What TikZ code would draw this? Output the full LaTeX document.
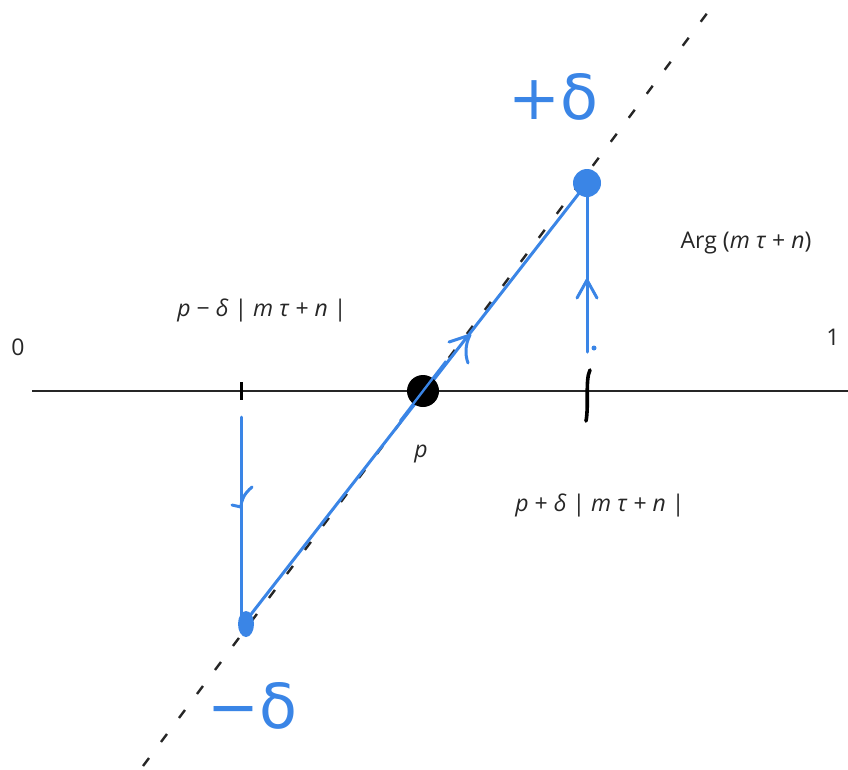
\documentclass[tikz,border=0pt]{standalone}
\usepackage{fontspec}
\usetikzlibrary{shapes.geometric}
\setmainfont{Open Sans}
\definecolor{hblue}{RGB}{58,133,230}
\begin{document}
\begin{tikzpicture}[x=1pt,y=-1pt,
  axis/.style={line width=2.2pt,black!85},
  dline/.style={line width=2.4pt,black!85,dash pattern=on 10pt off 20pt},
  bline/.style={hblue,line width=3pt,line cap=round},
  harrow/.style={hblue,line width=3pt,line cap=round,line join=round},
  lbl/.style={font=\fontsize{23}{26}\selectfont,inner sep=0pt,text=black!85},
  hand/.style={hblue,font=\fontsize{62}{64}\selectfont\fontspec{DejaVu Sans},inner sep=0pt}]
\useasboundingbox (0,0) rectangle (848,769);
% axis and dashed line
\coordinate (axL) at (32,391);
\coordinate (axR) at (848,391);
\draw[axis] (axL) -- (axR);
\coordinate (dB) at (143,766);
\coordinate (dT) at (708,12);
\draw[dline] (dB) -- (dT);
% ticks
\coordinate (t1a) at (241,382); \coordinate (t1b) at (241,400);
\draw[line width=3pt,black] (t1a) -- (t1b);
\coordinate (t2a) at (590,370); \coordinate (t2b) at (586,421);
\draw[line width=3.6pt,black,line cap=round] (t2a) .. controls (585,380) and (589,405) .. (t2b);
% blue paths
\coordinate (lv1) at (241,417);
\coordinate (lb) at (245,622);
\coordinate (tb) at (587,183);
\coordinate (rv1) at (587,352);
\draw[bline] (lv1) -- (241,618);
\draw[bline] (lb) -- (tb);
\draw[bline] (rv1) -- (tb);
% blobs
\node[fill=hblue,ellipse,minimum width=16pt,minimum height=26pt,inner sep=0pt] (blobL) at (246,624) {};
\node[fill=hblue,circle,minimum size=28pt,inner sep=0pt] (blobT) at (587,183) {};
\node[fill=hblue,circle,minimum size=5pt,inner sep=0pt] (dotR) at (594,348) {};
% point p
\node[fill=black,circle,minimum size=32pt,inner sep=0pt] (p) at (423,391) {};
\draw[hblue,line width=2.4pt] (400,421) -- (446,361);
% hand arrows
\draw[harrow] (252,487) .. controls (244,494) and (241,500) .. (241,508);
\draw[harrow] (232,505) -- (241,507);
\draw[harrow] (577,298) -- (587,280) -- (597,298);
\draw[harrow] (449,342) -- (470,335) .. controls (465,345) and (465,355) .. (468,363);
% labels
\node[lbl] (zero) at (18,347) {0};
\node[lbl] (one) at (833,337) {1};
\node[lbl] (lm) at (262,310) {\textit{p} − \textit{δ} | \textit{m τ} + \textit{n} |};
\node[lbl] (lp) at (600,505) {\textit{p} + \textit{δ} | \textit{m τ} + \textit{n} |};
\node[lbl] (arg) at (746,243) {Arg (\textit{m τ} + \textit{n})};
\node[lbl] (pl) at (421,454) {\textit{p}};
\node[hand] (pd) at (553,97) {+δ};
\node[hand] (md) at (252,706) {−δ};
\end{tikzpicture}
\end{document}
